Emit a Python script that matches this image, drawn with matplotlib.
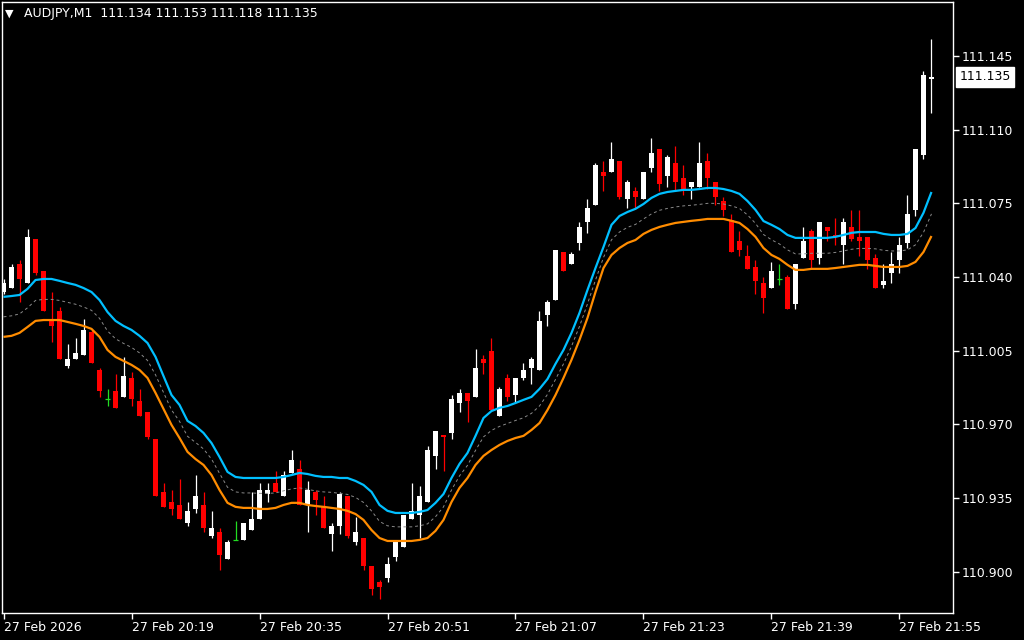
import numpy as np
import matplotlib
matplotlib.use("Agg")
import matplotlib.pyplot as plt

# AUDJPY M1 candles, 20:03 .. 21:59
opens = [111.033, 111.035, 111.046, 111.037, 111.058, 111.043, 111.020, 111.024, 110.998, 111.001,
         111.003, 111.014, 110.996, 110.982, 110.986, 110.983, 110.992, 110.981, 110.976, 110.963,
         110.938, 110.933, 110.932, 110.923, 110.930, 110.932, 110.917, 110.919, 110.906, 110.915,
         110.915, 110.920, 110.925, 110.937, 110.942, 110.936, 110.947, 110.949, 110.932, 110.938,
         110.931, 110.918, 110.922, 110.936, 110.914, 110.916, 110.903, 110.895, 110.897, 110.907,
         110.912, 110.925, 110.927, 110.933, 110.955, 110.965, 110.966, 110.980, 110.985, 110.983,
         111.001, 111.005, 110.974, 110.992, 110.984, 110.992, 110.997, 110.996, 111.022, 111.029,
         111.052, 111.046, 111.056, 111.066, 111.074, 111.090, 111.090, 111.095, 111.077, 111.081,
         111.077, 111.092, 111.101, 111.088, 111.094, 111.087, 111.083, 111.083, 111.095, 111.085,
         111.076, 111.067, 111.057, 111.050, 111.045, 111.037, 111.035, 111.039, 111.040, 111.027,
         111.049, 111.062, 111.049, 111.064, 111.060, 111.055, 111.064, 111.059, 111.059, 111.049,
         111.036, 111.042, 111.048, 111.056, 111.072, 111.098, 111.134]
highs = [111.039, 111.046, 111.048, 111.063, 111.058, 111.043, 111.033, 111.026, 111.008, 111.011,
         111.020, 111.015, 110.997, 110.987, 110.994, 111.002, 110.995, 110.987, 110.976, 110.963,
         110.942, 110.939, 110.944, 110.933, 110.946, 110.938, 110.929, 110.921, 110.915, 110.924,
         110.923, 110.938, 110.942, 110.942, 110.948, 110.948, 110.958, 110.953, 110.943, 110.939,
         110.936, 110.923, 110.938, 110.936, 110.926, 110.916, 110.903, 110.896, 110.907, 110.915,
         110.927, 110.942, 110.941, 110.960, 110.967, 110.965, 110.984, 110.987, 110.985, 111.006,
         111.003, 111.011, 110.988, 110.994, 110.992, 110.999, 111.002, 111.024, 111.029, 111.053,
         111.052, 111.052, 111.066, 111.077, 111.094, 111.095, 111.104, 111.095, 111.086, 111.083,
         111.090, 111.106, 111.101, 111.098, 111.102, 111.093, 111.085, 111.104, 111.099, 111.085,
         111.078, 111.070, 111.062, 111.055, 111.048, 111.040, 111.047, 111.046, 111.041, 111.046,
         111.064, 111.063, 111.066, 111.064, 111.068, 111.068, 111.072, 111.072, 111.059, 111.051,
         111.046, 111.052, 111.059, 111.079, 111.101, 111.138, 111.153]
lows = [111.032, 111.035, 111.028, 111.037, 111.041, 111.024, 111.009, 111.001, 110.997, 111.001,
        111.003, 110.999, 110.983, 110.979, 110.978, 110.983, 110.979, 110.974, 110.963, 110.936,
        110.931, 110.927, 110.925, 110.922, 110.928, 110.919, 110.916, 110.901, 110.906, 110.915,
        110.915, 110.920, 110.925, 110.933, 110.938, 110.936, 110.947, 110.932, 110.919, 110.927,
        110.921, 110.910, 110.918, 110.916, 110.913, 110.901, 110.889, 110.887, 110.895, 110.905,
        110.912, 110.925, 110.916, 110.933, 110.949, 110.948, 110.963, 110.976, 110.971, 110.983,
        110.994, 110.977, 110.974, 110.981, 110.980, 110.991, 110.989, 110.996, 111.017, 111.029,
        111.043, 111.046, 111.053, 111.061, 111.074, 111.081, 111.090, 111.077, 111.073, 111.073,
        111.077, 111.090, 111.081, 111.083, 111.081, 111.079, 111.077, 111.083, 111.082, 111.074,
        111.069, 111.052, 111.050, 111.044, 111.032, 111.023, 111.035, 111.036, 111.025, 111.025,
        111.049, 111.044, 111.046, 111.057, 111.055, 111.046, 111.057, 111.050, 111.044, 111.035,
        111.035, 111.037, 111.042, 111.054, 111.069, 111.096, 111.118]
closes = [111.037, 111.045, 111.039, 111.059, 111.042, 111.024, 111.017, 111.001, 111.001, 111.004,
          111.015, 110.999, 110.986, 110.982, 110.978, 110.993, 110.982, 110.974, 110.964, 110.936,
          110.931, 110.930, 110.925, 110.929, 110.936, 110.921, 110.921, 110.908, 110.914, 110.915,
          110.923, 110.925, 110.939, 110.939, 110.938, 110.946, 110.953, 110.932, 110.939, 110.934,
          110.921, 110.922, 110.937, 110.917, 110.919, 110.903, 110.892, 110.893, 110.904, 110.914,
          110.927, 110.929, 110.936, 110.958, 110.967, 110.964, 110.982, 110.985, 110.981, 110.997,
          110.999, 110.977, 110.987, 110.983, 110.992, 110.996, 111.001, 111.019, 111.028, 111.053,
          111.043, 111.051, 111.064, 111.073, 111.093, 111.088, 111.096, 111.078, 111.085, 111.078,
          111.090, 111.099, 111.084, 111.097, 111.085, 111.082, 111.085, 111.094, 111.087, 111.078,
          111.072, 111.052, 111.053, 111.044, 111.038, 111.030, 111.043, 111.039, 111.025, 111.046,
          111.057, 111.048, 111.066, 111.062, 111.059, 111.066, 111.058, 111.057, 111.048, 111.035,
          111.038, 111.046, 111.055, 111.070, 111.101, 111.136, 111.135]

# channel indicator: upper (blue), middle (dashed), lower (orange)
upper = [111.0306, 111.0310, 111.0315, 111.0344, 111.0386, 111.0391, 111.0391, 111.0382, 111.0372, 111.0363,
         111.0348, 111.0329, 111.0291, 111.0234, 111.0192, 111.0168, 111.0149, 111.0121, 111.0087, 111.0021,
         110.9930, 110.9840, 110.9793, 110.9717, 110.9693, 110.9660, 110.9612, 110.9546, 110.9475, 110.9451,
         110.9446, 110.9446, 110.9446, 110.9446, 110.9446, 110.9451, 110.9460, 110.9470, 110.9465, 110.9456,
         110.9451, 110.9451, 110.9446, 110.9446, 110.9432, 110.9413, 110.9380, 110.9318, 110.9290, 110.9280,
         110.9280, 110.9280, 110.9285, 110.9294, 110.9328, 110.9370, 110.9446, 110.9513, 110.9565, 110.9646,
         110.9731, 110.9764, 110.9779, 110.9788, 110.9802, 110.9817, 110.9831, 110.9869, 110.9916, 110.9988,
         111.0054, 111.0135, 111.0230, 111.0339, 111.0443, 111.0543, 111.0648, 111.0690, 111.0709, 111.0724,
         111.0747, 111.0776, 111.0795, 111.0804, 111.0809, 111.0814, 111.0814, 111.0818, 111.0823, 111.0823,
         111.0818, 111.0809, 111.0795, 111.0761, 111.0719, 111.0666, 111.0648, 111.0628, 111.0600, 111.0586,
         111.0586, 111.0586, 111.0586, 111.0586, 111.0591, 111.0600, 111.0610, 111.0614, 111.0614, 111.0614,
         111.0605, 111.0600, 111.0600, 111.0605, 111.0633, 111.0705, 111.0804]
middle = [111.0211, 111.0216, 111.0225, 111.0254, 111.0289, 111.0294, 111.0294, 111.0289, 111.0280, 111.0271,
          111.0258, 111.0242, 111.0204, 111.0144, 111.0107, 111.0085, 111.0066, 111.0040, 111.0004, 110.9936,
          110.9852, 110.9769, 110.9715, 110.9644, 110.9615, 110.9584, 110.9536, 110.9468, 110.9402, 110.9380,
          110.9375, 110.9375, 110.9373, 110.9373, 110.9375, 110.9385, 110.9394, 110.9399, 110.9392, 110.9385,
          110.9380, 110.9378, 110.9373, 110.9368, 110.9354, 110.9330, 110.9290, 110.9240, 110.9219, 110.9214,
          110.9214, 110.9214, 110.9219, 110.9228, 110.9262, 110.9309, 110.9389, 110.9456, 110.9506, 110.9577,
          110.9641, 110.9672, 110.9691, 110.9705, 110.9719, 110.9732, 110.9753, 110.9788, 110.9843, 110.9914,
          110.9988, 111.0071, 111.0166, 111.0273, 111.0386, 111.0493, 111.0577, 111.0614, 111.0636, 111.0650,
          111.0676, 111.0700, 111.0717, 111.0726, 111.0733, 111.0738, 111.0741, 111.0745, 111.0750, 111.0750,
          111.0747, 111.0738, 111.0726, 111.0695, 111.0655, 111.0602, 111.0577, 111.0557, 111.0529, 111.0510,
          111.0510, 111.0513, 111.0513, 111.0513, 111.0517, 111.0524, 111.0532, 111.0536, 111.0536, 111.0534,
          111.0527, 111.0524, 111.0524, 111.0529, 111.0553, 111.0612, 111.0700]
lower = [111.0116, 111.0121, 111.0135, 111.0163, 111.0192, 111.0196, 111.0196, 111.0196, 111.0187, 111.0178,
         111.0168, 111.0154, 111.0116, 111.0054, 111.0021, 111.0002, 110.9983, 110.9959, 110.9921, 110.9850,
         110.9774, 110.9698, 110.9636, 110.9570, 110.9536, 110.9508, 110.9460, 110.9389, 110.9328, 110.9309,
         110.9304, 110.9304, 110.9299, 110.9299, 110.9304, 110.9318, 110.9328, 110.9328, 110.9318, 110.9313,
         110.9309, 110.9304, 110.9299, 110.9290, 110.9275, 110.9247, 110.9199, 110.9161, 110.9147, 110.9147,
         110.9147, 110.9147, 110.9152, 110.9161, 110.9195, 110.9247, 110.9332, 110.9399, 110.9446, 110.9508,
         110.9551, 110.9579, 110.9603, 110.9622, 110.9636, 110.9646, 110.9674, 110.9707, 110.9769, 110.9840,
         110.9921, 111.0007, 111.0102, 111.0206, 111.0329, 111.0443, 111.0505, 111.0538, 111.0562, 111.0576,
         111.0605, 111.0624, 111.0638, 111.0648, 111.0657, 111.0662, 111.0667, 111.0671, 111.0676, 111.0676,
         111.0676, 111.0667, 111.0657, 111.0628, 111.0591, 111.0538, 111.0505, 111.0486, 111.0458, 111.0434,
         111.0434, 111.0439, 111.0439, 111.0439, 111.0443, 111.0448, 111.0453, 111.0458, 111.0458, 111.0453,
         111.0448, 111.0448, 111.0448, 111.0453, 111.0472, 111.0519, 111.0595]

tick_bars = [0, 16, 32, 48, 64, 80, 96, 112]
tick_labels = ["27 Feb 2026", "27 Feb 20:19", "27 Feb 20:35", "27 Feb 20:51",
               "27 Feb 21:07", "27 Feb 21:23", "27 Feb 21:39", "27 Feb 21:55"]
price_ticks = [110.900, 110.935, 110.970, 111.005, 111.040, 111.075, 111.110, 111.145]
header = "AUDJPY,M1  111.134 111.153 111.118 111.135"
last_price = closes[-1]

BG = "black"
FG = "white"
BULL = "white"
BEAR = "#ff0000"
DOJI = "#22dd22"
FS = 9

fig = plt.figure(figsize=(10.24, 6.4), dpi=100, facecolor=BG)
ax = fig.add_axes([2 / 1024, 1 - 613 / 640, 951 / 1024, 611 / 640], facecolor=BG)

x = np.arange(len(opens))
bw = 0.62
for i in x:
    o, h, l, c = opens[i], highs[i], lows[i], closes[i]
    if o == c:
        col = DOJI
        ax.vlines(i, l, h, color=col, lw=0.9)
        ax.hlines(o, i - bw / 2, i + bw / 2, color=col, lw=0.9)
        continue
    col = BULL if c > o else BEAR
    ax.vlines(i, l, h, color=col, lw=0.9)
    ax.bar(i, abs(c - o), bottom=min(o, c), width=bw, color=col, linewidth=0)

ax.plot(x, upper, color="#00bfff", lw=1.6, solid_capstyle="butt")
ax.plot(x, lower, color="#ff8c00", lw=1.6, solid_capstyle="butt")
ax.plot(x, middle, color="#8a8a8a", lw=0.7, linestyle=(0, (3, 3)))

ax.set_xlim(-0.19, 118.69)
ax.set_ylim(110.8805, 111.1706)

for s in ax.spines.values():
    s.set_color(FG)
    s.set_linewidth(1)

ax.yaxis.tick_right()
ax.set_yticks(price_ticks)
ax.set_yticklabels([f"{p:.3f}" for p in price_ticks])
ax.set_xticks(tick_bars)
ax.set_xticklabels(tick_labels, ha="left")
ax.tick_params(axis="both", colors=FG, labelcolor=FG, labelsize=FS, length=4, width=1,
               direction="out")
ax.tick_params(axis="y", pad=2)
ax.tick_params(axis="x", pad=2)

# current price tag
ax.annotate(f"{last_price:.3f}", xy=(1.0068, last_price), xycoords=("axes fraction", "data"),
            ha="left", va="center", fontsize=FS, color="black",
            bbox=dict(boxstyle="square,pad=0.28", fc="white", ec="white"), annotation_clip=False)

# header
fig.text(5 / 1024, 1 - 14 / 640, "\u25bc", color=FG, fontsize=8, va="center", ha="left")
fig.text(24 / 1024, 1 - 14 / 640, header, color=FG, fontsize=FS, va="center", ha="left")

fig.savefig("out.png", dpi=100, facecolor=BG)
